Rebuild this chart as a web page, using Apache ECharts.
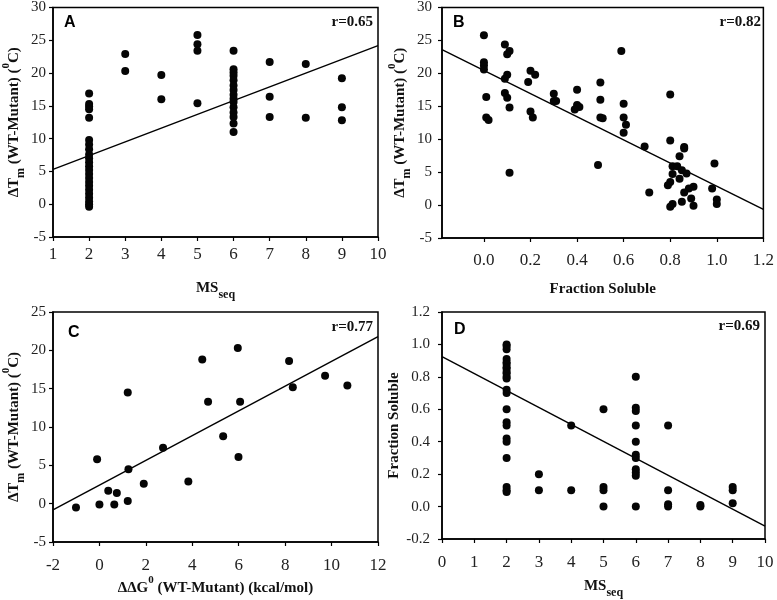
<!DOCTYPE html>
<html><head><meta charset="utf-8">
<script src="https://cdn.jsdelivr.net/npm/echarts@6/dist/echarts.min.js"></script>
<style>html,body{margin:0;padding:0;background:#fff}#c{width:777px;height:600px}</style>
</head><body><div id="c"></div>
<script>
// ---------- Panel A: MSseq vs dTm ----------
const aMS = [2,2,2,2,2,2,2,2,2,2,2,2,2,2,2,2,2,2,2,2,2,2,2,
  3,3, 4,4, 5,5,5,5,
  6,6,6,6,6,6,6,6,6,6,6,6,6,6,6,
  7,7,7, 8,8, 9,9,9];
const aTm = [16.9,15.3,14.9,14.5,13.2,9.8,9.1,8.4,7.6,7.0,6.4,5.8,5.2,4.6,4.0,3.4,2.8,2.2,1.6,1.0,0.4,0.0,-0.4,
  22.9,20.3, 19.7,16.0, 25.8,24.4,23.4,15.4,
  23.4,20.6,20.1,19.6,18.9,18.1,17.4,16.7,16.1,15.6,14.8,14.0,13.3,12.3,11.0,
  21.7,16.4,13.3, 21.4,13.2, 19.2,14.8,12.8];
const aFitX = [1, 10];
const aFitY = [5.3, 24.2];

// ---------- Panel B: Fraction soluble vs dTm ----------
const bFrac = [0.00,0.00,0.00,0.00,0.01,0.01,0.02,0.09,0.11,0.10,0.10,0.09,0.09,0.10,0.11,0.11,
  0.20,0.22,0.19,0.20,0.21,0.30,0.30,0.31,0.40,0.40,0.41,0.39,0.50,0.50,0.50,0.51,0.49,
  0.59,0.60,0.60,0.61,0.60,0.69,0.71,0.80,0.80,0.86,0.86,0.84,0.81,0.83,0.85,0.87,0.81,
  0.84,0.80,0.79,0.90,0.88,0.86,0.89,0.85,0.81,0.80,0.90,0.99,0.98,1.00,1.00];
const bTm = [25.8,21.7,21.2,20.6,16.4,13.3,12.9,24.4,23.4,22.9,19.8,19.2,17.0,16.3,14.8,4.9,
  20.4,19.8,18.7,14.2,13.3,16.9,15.8,15.8,17.5,15.2,14.9,14.5,18.6,16.0,13.3,13.2,6.1,
  23.4,15.4,13.3,12.2,11.0,8.9,1.9,16.8,9.8,8.8,8.6,7.4,5.9,5.9,5.3,4.8,4.7,
  4.0,3.5,3.0,2.8,2.5,1.9,1.0,0.5,0.15,-0.25,-0.1,6.3,2.5,0.85,0.15];
const bFitX = [-0.18, 1.2];
const bFitY = [23.6, -0.65];
const bTicks = [0.0, 0.2, 0.4, 0.6, 0.8, 1.0, 1.2];

// ---------- Panel C: ddG vs dTm ----------
const cDG = [-1.01,-0.10,0.00,0.38,0.75,0.64,1.22,1.25,1.22,1.91,2.74,3.83,4.43,4.68,5.33,5.96,5.99,6.06,8.17,8.33,9.72,10.68];
const cTm = [-0.5,5.8,-0.1,1.7,1.4,-0.1,14.5,4.5,0.35,2.6,7.3,2.9,18.8,13.3,8.8,20.3,6.1,13.3,18.6,15.2,16.7,15.4];
const cFitX = [-2, 12];
const cFitY = [-0.8, 21.8];

// ---------- Panel D: MSseq vs Fraction soluble ----------
const dMS = [2,2,2,2,2,2,2,2,2,2,2,2,2,2,2,2,2,2,2,2,2,2,2,
  3,3, 4,4, 5,5,5,5,
  6,6,6,6,6,6,6,6,6,6,6,
  7,7,7,7, 8,8, 9,9,9];
const dFrac = [1.00,0.99,0.97,0.91,0.89,0.88,0.86,0.85,0.83,0.82,0.80,0.79,0.72,0.70,0.60,0.52,0.50,0.42,0.40,0.30,0.12,0.10,0.09,
  0.20,0.10, 0.50,0.10, 0.60,0.12,0.10,0.00,
  0.80,0.61,0.59,0.50,0.40,0.32,0.30,0.23,0.21,0.19,0.00,
  0.50,0.10,0.015,0.00, 0.01,0.00, 0.12,0.10,0.02];
const dFitX = [0, 10];
const dFitY = [0.925, -0.12];

const zip = (xs, ys) => xs.map((x, i) => [x, ys[i]]);
const SERIF = 'Liberation Serif';

const chart = echarts.init(document.getElementById('c'), null, {renderer: 'canvas'});

const gridBase = {show: true, borderColor: '#000', borderWidth: 1.5, backgroundColor: 'transparent', containLabel: false};
const grids = [
  Object.assign({left: 53, top: 6, width: 325, height: 231}, gridBase),
  Object.assign({left: 442, top: 6, width: 323, height: 232}, gridBase),
  Object.assign({left: 53, top: 312, width: 325, height: 230}, gridBase),
  Object.assign({left: 442, top: 312, width: 323, height: 230}, gridBase)
];

const nameRich = {
  t: {fontFamily: SERIF, fontWeight: 'bold', fontSize: 15, color: '#111', lineHeight: 26},
  s: {fontFamily: SERIF, fontWeight: 'bold', fontSize: 12, color: '#111', lineHeight: 14, verticalAlign: 'bottom'},
  p: {fontFamily: SERIF, fontWeight: 'bold', fontSize: 11, color: '#111', lineHeight: 12, verticalAlign: 'top'}
};
const tmName = '{t|ΔT}{s|m}{t| (WT-Mutant) (}{p|0}{t|C)}';
const msName = '{t|MS}{s|seq}';
const dgName = '{t|ΔΔG}{p|0}{t| (WT-Mutant) (kcal/mol)}';
const fsName = '{t|Fraction Soluble}';

function ax(o, labelSize, margin) {
  return Object.assign({
    type: 'value',
    nameLocation: 'middle',
    nameTextStyle: {rich: nameRich},
    axisLine: {show: true, onZero: false, lineStyle: {color: '#000', width: 1.5}},
    axisTick: {show: true, inside: false, length: 4, lineStyle: {color: '#000', width: 1.2}},
    splitLine: {show: false},
    axisLabel: {color: '#222', fontFamily: SERIF, fontSize: labelSize, margin: margin, showMinLabel: true, showMaxLabel: true}
  }, o);
}

const xAxes = [
  ax({gridIndex: 0, min: 1, max: 10, interval: 1, name: msName, nameGap: 38}, 17, 9),
  (function () {
    const a = ax({gridIndex: 1, min: -0.18, max: 1.2, name: fsName, nameGap: 38}, 17, 14);
    a.axisLabel.customValues = bTicks;
    a.axisLabel.formatter = v => v.toFixed(1);
    a.axisTick.customValues = bTicks;
    return a;
  })(),
  ax({gridIndex: 2, min: -2, max: 12, interval: 2, name: dgName, nameGap: 31}, 17, 15),
  ax({gridIndex: 3, min: 0, max: 10, interval: 1, name: msName, nameGap: 34}, 17, 15)
];
const yAxes = [
  ax({gridIndex: 0, min: -5, max: 30, interval: 5, name: tmName, nameGap: 18, nameRotate: 90}, 15, 7),
  ax({gridIndex: 1, min: -5, max: 30, interval: 5, name: tmName, nameGap: 28, nameRotate: 90}, 15, 10),
  ax({gridIndex: 2, min: -5, max: 25, interval: 5, name: tmName, nameGap: 18, nameRotate: 90}, 15, 7),
  (function () {
    const a = ax({gridIndex: 3, min: -0.2, max: 1.2, interval: 0.2, name: fsName, nameGap: 35, nameRotate: 90}, 15, 12);
    a.axisLabel.formatter = v => v.toFixed(1);
    return a;
  })()
];

const pts = [zip(aMS, aTm), zip(bFrac, bTm), zip(cDG, cTm), zip(dMS, dFrac)];
const fits = [zip(aFitX, aFitY), zip(bFitX, bFitY), zip(cFitX, cFitY), zip(dFitX, dFitY)];
const series = [];
for (let i = 0; i < 4; i++) {
  series.push({type: 'scatter', xAxisIndex: i, yAxisIndex: i, data: pts[i], symbol: 'circle', symbolSize: 8,
    itemStyle: {color: '#050505', opacity: 1}, silent: true, z: 3});
  series.push({type: 'line', xAxisIndex: i, yAxisIndex: i, data: fits[i], showSymbol: false, symbol: 'none',
    lineStyle: {color: '#000', width: 1.4}, silent: true, z: 2, clip: true});
}

const panelTexts = [
  {l: 'A', x: 64, y: 15, r: 'r=0.65', rx: 373, ry: 15},
  {l: 'B', x: 453, y: 15, r: 'r=0.82', rx: 761, ry: 15},
  {l: 'C', x: 68, y: 325, r: 'r=0.77', rx: 373, ry: 320},
  {l: 'D', x: 454, y: 322, r: 'r=0.69', rx: 760, ry: 319}
];
const graphics = [];
panelTexts.forEach(p => {
  graphics.push({type: 'text', x: p.x, y: p.y, silent: true,
    style: {text: p.l, font: 'bold 16px "Liberation Sans"', fill: '#000', align: 'left', verticalAlign: 'top'}});
  graphics.push({type: 'text', x: p.rx, y: p.ry, silent: true,
    style: {text: p.r, font: 'bold 15px "Liberation Serif"', fill: '#111', align: 'right', verticalAlign: 'top'}});
});

chart.setOption({
  animation: false,
  backgroundColor: '#fff',
  grid: grids,
  xAxis: xAxes,
  yAxis: yAxes,
  series: series,
  graphic: graphics
});
</script>
</body></html>
